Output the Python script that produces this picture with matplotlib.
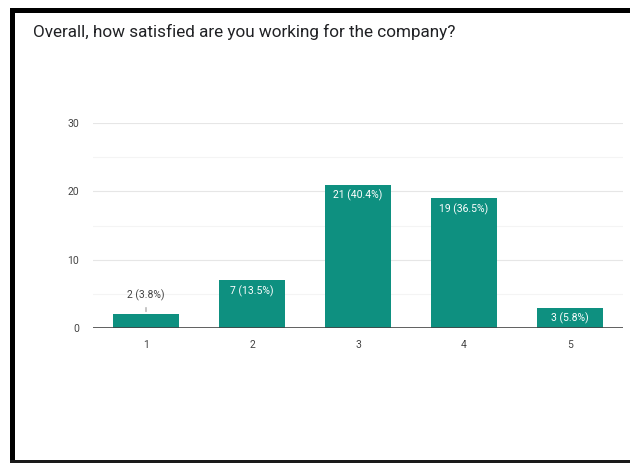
import matplotlib
matplotlib.use("Agg")
import matplotlib.pyplot as plt
from matplotlib import font_manager
from matplotlib.patches import Rectangle

title = "Overall, how satisfied are you working for the company?"
categories = ["1", "2", "3", "4", "5"]
counts = [2, 7, 21, 19, 3]
percents = [3.8, 13.5, 40.4, 36.5, 5.8]
y_ticks = [0, 10, 20, 30]

names = {f.name for f in font_manager.fontManager.ttflist}
family = "Liberation Sans Narrow" if "Liberation Sans Narrow" in names else "Roboto"
plt.rcParams["font.family"] = [family, "DejaVu Sans"]

W, H = 630, 463
fig = plt.figure(figsize=(W / 100, H / 100), dpi=100)
fig.patch.set_facecolor("white")


def px_rect(x0, y0, x1, y1, color):
    fig.add_artist(Rectangle((x0 / W, 1 - y1 / H), (x1 - x0) / W, (y1 - y0) / H,
                             transform=fig.transFigure, facecolor=color,
                             edgecolor="none", zorder=10))


# frame around the card
px_rect(10, 8, W, 13, "#000000")
px_rect(10, 8, 15, H, "#000000")
px_rect(10, 460, W, H, "#1a1a1a")

fig.text(33 / W, 1 - 32 / H, title, fontsize=12.3, color="#202124",
         ha="left", va="center")

ax = fig.add_axes([93 / W, 1 - 328 / H, (623 - 93) / W, (328 - 123) / H])
x = list(range(1, len(categories) + 1))
bar_color = "#0e9080"
ax.bar(x, counts, width=0.62, color=bar_color, zorder=3)
ax.set_xlim(0.5, 5.5)
ax.set_ylim(0, 30)

# gridlines: major at 10s, faint minor at 5s
for v in [5, 15, 25]:
    ax.axhline(v, color="#f4f4f4", lw=0.8, zorder=1)
for v in [10, 20, 30]:
    ax.axhline(v, color="#e6e6e6", lw=0.8, zorder=1)
ax.axhline(0, color="#444444", lw=1.2, zorder=4)

ax.set_yticks(y_ticks)
ax.set_yticklabels([str(v) for v in y_ticks])
ax.set_xticks(x)
ax.set_xticklabels(categories)
ax.tick_params(axis="both", length=0, labelsize=7.5, colors="#444444")
ax.tick_params(axis="y", pad=10)
ax.tick_params(axis="x", pad=9)
for s in ax.spines.values():
    s.set_visible(False)

for xi, c, p in zip(x, counts, percents):
    label = f"{c} ({p}%)"
    if c >= 3:
        ax.annotate(label, (xi, c), xytext=(0, -8), textcoords="offset points",
                    ha="center", va="center", fontsize=7.5, color="white", zorder=5)
    else:
        ax.annotate(label, (xi, c), xytext=(0, 14), textcoords="offset points",
                    ha="center", va="center", fontsize=7.5, color="#444444", zorder=5)
        ax.annotate("", (xi, c), xytext=(xi, c + 1.4),
                    arrowprops=dict(arrowstyle="-", color="#999999", lw=0.8), zorder=5)

fig.savefig("out.png", dpi=100)
